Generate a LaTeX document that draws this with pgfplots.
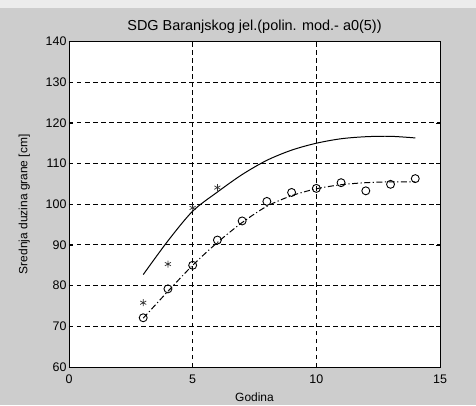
\documentclass[border=0pt]{standalone}
\usepackage{pgfplots}
\pgfplotsset{compat=1.18}
\usepackage{fontspec}
\setmainfont{Liberation Sans}
\usetikzlibrary{backgrounds}
\definecolor{bggray}{RGB}{205,205,205}
\begin{document}
\begin{tikzpicture}[x=1bp,y=1bp]
\begin{axis}[
  at={(0,0)}, anchor=south west,
  scale only axis, width=371bp, height=325.5bp,
  xmin=0, xmax=15, ymin=60, ymax=140,
  xtick={0,5,10,15}, ytick={60,70,...,140},
  tick align=inside, tick style={black, thin},
  major tick length=4bp,
  grid=major, grid style={black, line width=1pt, dash pattern=on 4.5bp off 3.5bp},
  axis line style={black, line width=1pt},
  axis background/.style={fill=white},
  /pgf/number format/assume math mode=true,
  tick label style={font=\fontsize{12.5}{13}\selectfont},
  xlabel={Godina}, ylabel={Srednja duzina grane [cm]},
  label style={font=\fontsize{12}{13}\selectfont},
  xlabel style={yshift=-3bp},
  ylabel style={yshift=9bp},
  title={SDG Baranjskog jel.(polin. mod.- a0(5))},
  title style={font=\fontsize{14.5}{15}\selectfont, yshift=-1bp},
  xticklabel style={yshift=-4bp},
  yticklabel style={xshift=1bp},
]
\addplot[black, line width=1pt, smooth] coordinates {
(3,82.7) (4,91.0) (5,98.3) (6,103.0) (7,107.3) (8,110.8) (9,113.3) (10,115.0) (11,116.1) (12,116.6) (13,116.7) (14,116.3)};
\addplot[black, line width=1pt, smooth, dash pattern=on 6bp off 2.5bp on 1.2bp off 2.5bp] coordinates {
(3,72.0) (4,78.6) (5,85.0) (6,90.6) (7,95.5) (8,99.5) (9,102.1) (10,103.8) (11,104.8) (12,105.3) (13,105.5) (14,105.5)};
\addplot[only marks, mark=o, mark size=4pt, black, line width=0.9pt] coordinates {
(3,72.1) (4,79.2) (5,85.0) (6,91.2) (7,95.9) (8,100.7) (9,102.9) (10,103.9) (11,105.3) (12,103.3) (13,104.9) (14,106.3)};
\addplot[only marks, mark=asterisk, mark size=3.5pt, black!80, line width=0.7pt] coordinates {
(3,75.8) (4,85.3) (5,99.1) (6,104.1)};
\end{axis}
\begin{scope}[on background layer]
\fill[bggray] (-69,-38) rectangle (407,367);
\fill[gray!15] (-69,359) rectangle (407,367);
\end{scope}
\useasboundingbox (-69,-38) rectangle (407,367);
\end{tikzpicture}
\end{document}
